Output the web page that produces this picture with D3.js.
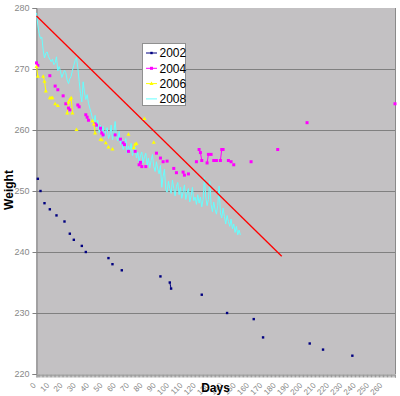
<!DOCTYPE html>
<html>
<head>
  <meta charset="UTF-8">
  <title>Weight by days</title>
  <script src="https://cdn.jsdelivr.net/npm/d3@7"></script>
  <style>
    body { margin: 0; background: #fff; font-family: "Liberation Sans", Arial, sans-serif; }
    svg { display: block; }
  </style>
</head>
<body>
  <div id="chart"></div>
  <script>
    // data: [day, weight]
    var years = ["2002", "2004", "2006", "2008"];
    var colors = ["#000080", "#ff00ff", "#ffff00", "#66ffff"];

    var w2002 = [[1, 252], [3, 250], [6, 248], [10, 247], [15, 246], [21, 245], [25, 243], [28, 242],
      [34, 241], [37, 240], [54, 239], [57, 238], [64, 237], [93, 236], [100, 235], [101, 234],
      [124, 233], [143, 230], [163, 229], [170, 226], [205, 225], [215, 224], [237, 223]];

    var w2004 = [[0, 271.0], [1, 270.6], [10, 268.9], [14, 267.2], [16, 266.6], [20, 265.6], [22, 264.3],
      [24, 263.6], [25, 263.3], [31, 264.1], [32, 263.8], [37, 262.5], [38, 262.1], [39, 261.6],
      [44, 261.0], [45, 260.8], [48, 260.3], [49, 259.5], [50, 259.2], [59, 259.2], [63, 258.5],
      [65, 257.9], [66, 257.6], [69, 256.5], [74, 256.5], [77, 254.3], [78, 254.7], [79, 254.0],
      [82, 254.0], [90, 256.2], [93, 255.4], [95, 254.8], [98, 254.9], [103, 253.7], [105, 253.0],
      [110, 253.1], [111, 252.6], [114, 252.8], [120, 254.8], [122, 256.8], [123, 256.3], [124, 255.0],
      [128, 254.6], [129, 256.0], [131, 256.0], [133, 255.0], [135, 255.0], [138, 255.0], [139, 256.8],
      [140, 256.8], [144, 255.0], [146, 254.8], [148, 254.3], [161, 254.8], [181, 256.8], [203, 261.2],
      [269, 264.3]];

    var w2006 = [[0, 270.4], [1, 268.8], [5, 268.8], [6, 268.0], [7, 266.4], [10, 265.3], [11, 265.3],
      [12, 265.3], [14, 264.3], [16, 264.0], [23, 262.8], [24, 264.6], [25, 265.0], [26, 265.3],
      [27, 262.8], [30, 260.1], [42, 261.5], [43, 261.0], [44, 259.5], [48, 258.5], [49, 258.4],
      [52, 257.9], [54, 257.2], [57, 256.9], [69, 259.3], [73, 257.1], [74, 257.7], [75, 257.8],
      [81, 261.9], [88, 258.0]];

    // 2008 is daily from day 0
    var w2008 = [279.2, 277.2, 275.8, 275.0, 275.2, 273.1, 271.8, 272.6, 272.8, 272.0,
      271.6, 271.2, 271.6, 270.7, 271.0, 272.0, 269.7, 270.4, 269.6, 268.6,
      269.2, 269.8, 269.4, 268.2, 267.6, 268.4, 268.8, 269.8, 270.6, 271.4,
      271.9, 270.2, 268.0, 266.0, 264.6, 267.9, 266.2, 265.0, 265.8, 264.4,
      263.6, 262.8, 261.9, 261.2, 262.4, 260.4, 261.6, 259.6, 260.8, 259.4,
      260.6, 258.8, 259.8, 260.4, 258.6, 259.2, 260.8, 258.4, 259.6, 261.4,
      259.0, 258.2, 259.8, 257.6, 258.4, 256.8, 257.8, 258.6, 256.2, 257.4,
      256.6, 257.8, 255.8, 256.6, 257.2, 255.4, 256.4, 254.8, 255.8, 256.4,
      254.6, 255.6, 256.2, 254.2, 255.4, 253.8, 255.0, 256.0, 254.0, 253.2,
      254.8, 253.6, 252.8, 254.2, 250.6, 252.4, 253.6, 250.2, 249.8, 251.6,
      250.4, 249.6, 251.8, 250.4, 249.2, 250.8, 251.4, 249.4, 250.6, 248.8,
      249.8, 251.0, 248.6, 249.6, 250.4, 248.2, 249.2, 250.6, 248.4, 249.0,
      247.8, 249.4, 248.0, 249.0, 247.4, 248.6, 252.2, 249.0, 247.6, 248.6,
      251.6, 247.8, 246.6, 248.2, 247.0, 246.2, 247.6, 250.8, 246.4, 245.6,
      247.2, 245.8, 244.6, 246.0, 245.0, 244.2, 245.4, 243.8, 244.6, 243.2,
      244.2, 242.8, 243.6, 242.8];

    var goal = [[0, 278.7], [184, 239.3]];

    var yTicks = [220, 230, 240, 250, 260, 270, 280];
    var xTicks = d3.range(0, 261, 10);

    var width = 400, height = 396;
    var plotL = 36, plotR = 395, plotT = 8, plotB = 374;

    var x = d3.scaleLinear().domain([0, 269]).range([plotL + 0.5, plotR]);
    var y = d3.scaleLinear().domain([220, 280]).range([plotB, plotT]);

    var svg = d3.select('#chart').append('svg')
      .attr('width', width)
      .attr('height', height);

    svg.append('rect')
      .attr('x', plotL).attr('y', plotT)
      .attr('width', plotR - plotL).attr('height', plotB - plotT)
      .attr('fill', '#c3c1c3');

    // grid
    svg.selectAll('.grid')
      .data(yTicks.slice(1, -1))
      .enter().append('line')
      .attr('x1', plotL).attr('x2', plotR)
      .attr('y1', d => Math.round(y(d)) + 0.5).attr('y2', d => Math.round(y(d)) + 0.5)
      .attr('stroke', '#808080');

    svg.append('line')
      .attr('x1', plotR + 0.5).attr('x2', plotR + 0.5)
      .attr('y1', plotT).attr('y2', plotB)
      .attr('stroke', '#8a8a8a');

    // y axis
    var yAxis = svg.append('g')
      .attr('transform', 'translate(' + (plotL + 0.5) + ',0)')
      .call(d3.axisLeft(y).tickValues(yTicks).tickSize(4).tickPadding(3));
    yAxis.select('.domain').attr('stroke', '#808080');
    yAxis.selectAll('.tick line').attr('stroke', '#808080');
    yAxis.selectAll('text')
      .attr('fill', '#888')
      .style('font-size', '9px')
      .style('font-family', '"Liberation Sans", Arial, sans-serif');

    // x axis: a tick for every day
    var xAxis = svg.append('g')
      .attr('transform', 'translate(0,' + (plotB + 0.5) + ')')
      .call(d3.axisBottom(x).tickValues(d3.range(0, 270, 1)).tickSize(3).tickFormat(''));
    xAxis.select('.domain').attr('stroke', '#808080');
    xAxis.selectAll('.tick line').attr('stroke', '#9a9a9a');

    svg.selectAll('.xlab')
      .data(xTicks)
      .enter().append('text')
      .attr('transform', d => 'translate(' + (x(d) - 4) + ',' + (plotB + 8) + ') rotate(-45)')
      .attr('text-anchor', 'end')
      .attr('dy', '0.7em')
      .attr('fill', '#888')
      .style('font-size', '8px')
      .text(d => d);

    // axis titles
    svg.append('text')
      .attr('transform', 'translate(13,190) rotate(-90)')
      .attr('text-anchor', 'middle')
      .style('font-size', '12px')
      .style('font-weight', 'bold')
      .text('Weight');

    svg.append('text')
      .attr('x', (plotL + plotR) / 2)
      .attr('y', 392)
      .attr('text-anchor', 'middle')
      .style('font-size', '12px')
      .style('font-weight', 'bold')
      .text('Days');

    // connect only consecutive days
    function segments(pts) {
      var out = [], cur = [pts[0]];
      for (var i = 1; i < pts.length; i++) {
        if (pts[i][0] - pts[i - 1][0] === 1) cur.push(pts[i]);
        else { if (cur.length > 1) out.push(cur); cur = [pts[i]]; }
      }
      if (cur.length > 1) out.push(cur);
      return out;
    }

    var line = d3.line().x(d => x(d[0])).y(d => y(d[1]));

    var series = [
      w2002,
      w2004,
      w2006,
      w2008.map((v, i) => [i, v])
    ];

    // 2008 first (behind)
    svg.append('path')
      .datum(series[3])
      .attr('d', line)
      .attr('fill', 'none')
      .attr('stroke', colors[3])
      .attr('stroke-width', 1);

    [0, 1, 2].forEach(function (k) {
      svg.selectAll('.seg' + k)
        .data(segments(series[k]))
        .enter().append('path')
        .attr('d', line)
        .attr('fill', 'none')
        .attr('stroke', colors[k])
        .attr('stroke-width', 1);
    });

    // red line
    svg.append('path')
      .datum(goal)
      .attr('d', line)
      .attr('fill', 'none')
      .attr('stroke', '#ff0000')
      .attr('stroke-width', 1.3);

    function marker(sel, k, cx, cy) {
      if (k === 0) {
        sel.append('rect').attr('x', cx - 1.2).attr('y', cy - 1.2).attr('width', 2.4).attr('height', 2.4)
          .attr('fill', colors[0]);
      } else if (k === 1) {
        sel.append('rect').attr('x', cx - 1.5).attr('y', cy - 1.5).attr('width', 3).attr('height', 3)
          .attr('fill', colors[1]);
      } else if (k === 2) {
        sel.append('path').attr('d', 'M' + cx + ',' + (cy - 2) + 'L' + (cx + 2) + ',' + (cy + 1.5) + 'L' + (cx - 2) + ',' + (cy + 1.5) + 'Z')
          .attr('fill', colors[2]);
      }
    }

    var marks = svg.append('g');
    [0, 1, 2].forEach(function (k) {
      series[k].forEach(function (d) { marker(marks, k, x(d[0]), y(d[1])); });
    });

    // legend
    var lg = svg.append('g').attr('transform', 'translate(142,43)');
    lg.append('rect')
      .attr('x', 0.5).attr('y', 0.5).attr('width', 43).attr('height', 62)
      .attr('fill', '#fff').attr('stroke', '#909090');
    years.forEach(function (yr, i) {
      var cy = 10 + i * 15.3;
      lg.append('line').attr('x1', 4).attr('x2', 15).attr('y1', cy).attr('y2', cy)
        .attr('stroke', colors[i]).attr('stroke-width', 1);
      marker(lg, i, 9.5, cy);
      lg.append('text').attr('x', 17.5).attr('y', cy).attr('dy', '0.36em')
        .style('font-size', '12px').text(yr);
    });
  </script>
</body>
</html>
